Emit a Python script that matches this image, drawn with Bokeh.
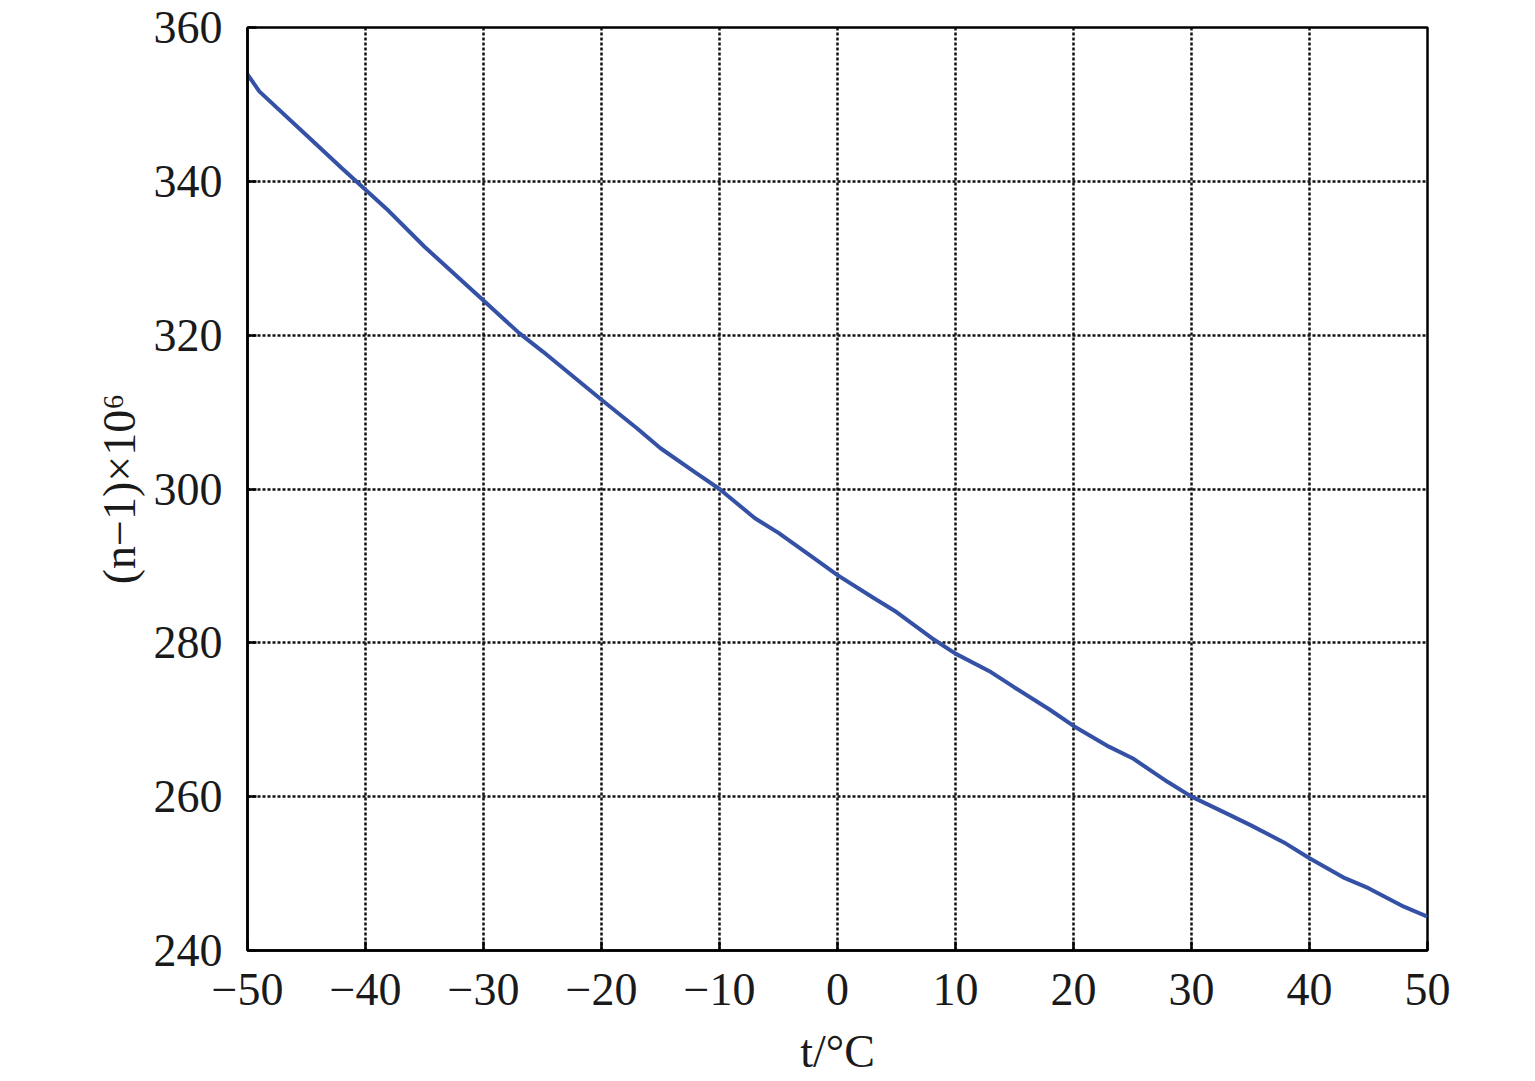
from bokeh.plotting import figure
from bokeh.models import FixedTicker, Range1d
from bokeh.embed import file_html
from bokeh.resources import INLINE

# Data
temperature = [-50, -49, -45, -42, -40, -38, -35, -32, -30, -27, -25, -20, -17, -15, -12, -10,
               -7, -5, -2, 0, 3, 5, 8, 10, 13, 15, 18, 20, 23, 25, 28, 30, 33, 35, 38, 40,
               43, 45, 48, 50]
refractivity = [353.9, 351.7, 346.0, 341.7, 338.9, 336.1, 331.5, 327.3, 324.5, 320.3, 317.9,
                311.6, 307.9, 305.3, 302.1, 300.0, 296.2, 294.3, 291.0, 288.8, 285.9, 284.0,
                280.6, 278.6, 276.2, 274.2, 271.3, 269.2, 266.5, 265.0, 261.9, 260.0, 257.8,
                256.3, 253.9, 252.0, 249.4, 248.1, 245.7, 244.4]

x_ticks = [-50, -40, -30, -20, -10, 0, 10, 20, 30, 40, 50]
x_tick_labels = ["\u221250", "\u221240", "\u221230", "\u221220", "\u221210", "0", "10", "20", "30", "40", "50"]
y_ticks = [240, 260, 280, 300, 320, 340, 360]
y_tick_labels = ["240", "260", "280", "300", "320", "340", "360"]

x_title = "t/\u00b0C"
y_title = "(n\u22121)\u00d710\u2076"

FONT = "Liberation Serif"
FS = "46px"

p = figure(output_backend="svg", toolbar_location=None,
           frame_width=1180, frame_height=923,
           min_border_left=247, min_border_right=100,
           min_border_top=27, min_border_bottom=120,
           x_range=Range1d(-50, 50), y_range=Range1d(240, 360))
p.background_fill_color = "white"
p.border_fill_color = "white"
p.outline_line_color = "black"
p.outline_line_width = 2.5

for ax, ticks, labels in ((p.xaxis[0], x_ticks, x_tick_labels), (p.yaxis[0], y_ticks, y_tick_labels)):
    ax.ticker = FixedTicker(ticks=ticks)
    ax.major_label_overrides = {t: l for t, l in zip(ticks, labels)}
    ax.major_label_text_font = FONT
    ax.major_label_text_font_size = FS
    ax.major_label_text_color = "#1a1a1a"
    ax.axis_line_width = 2.5
    ax.axis_line_color = "black"
    ax.major_tick_in = 9
    ax.major_tick_out = 0
    ax.major_tick_line_width = 2.5
    ax.minor_tick_line_color = None
    ax.axis_label_text_font = FONT
    ax.axis_label_text_font_size = FS
    ax.axis_label_text_font_style = "normal"
    ax.axis_label_text_color = "#1a1a1a"

p.xaxis.axis_label = x_title
p.yaxis.axis_label = y_title
p.xaxis.major_label_standoff = 23
p.yaxis.major_label_standoff = 25
p.xaxis.axis_label_standoff = 18
p.yaxis.axis_label_standoff = 6

for g in (p.xgrid[0], p.ygrid[0]):
    g.grid_line_color = "#111111"
    g.grid_line_width = 2.5
    g.grid_line_dash = "3 2"
    g.grid_line_alpha = 1.0

p.line(temperature, refractivity, line_color="#3451a6", line_width=4)

open("out.html", "w").write(file_html(p, INLINE))
